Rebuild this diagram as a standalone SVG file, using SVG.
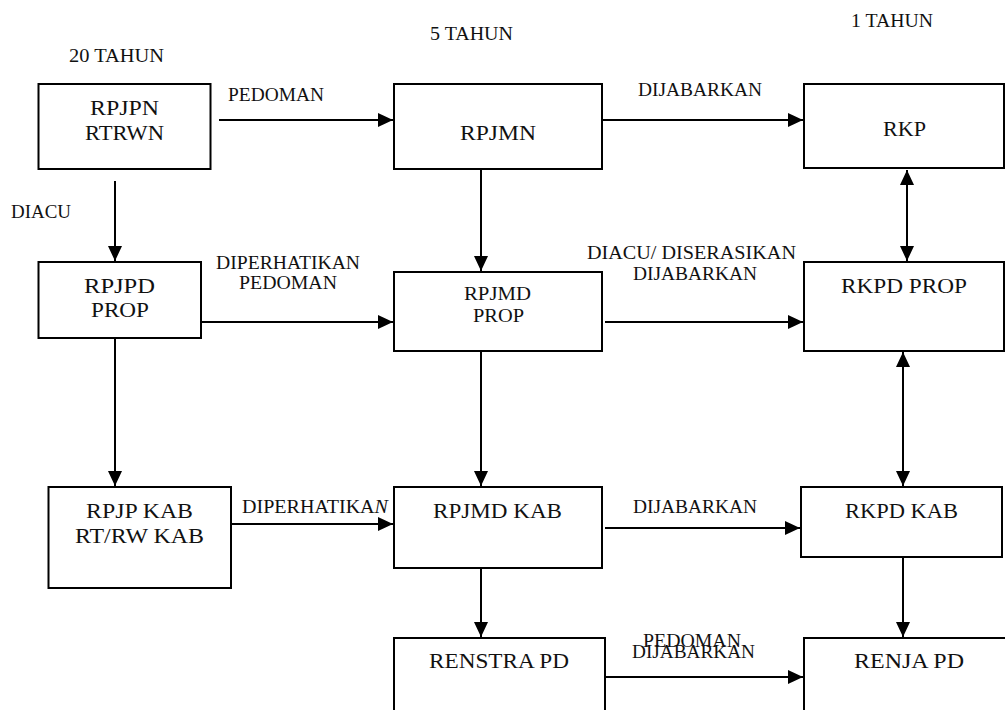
<svg xmlns="http://www.w3.org/2000/svg" width="1005" height="710" viewBox="0 0 1005 710">
<defs>
<marker id="ah" markerUnits="userSpaceOnUse" markerWidth="16" markerHeight="14" viewBox="0 0 16 14" refX="15" refY="7" orient="auto-start-reverse">
<path d="M0,0 L15,7 L0,14 Z" fill="#000"/>
</marker>
</defs>
<style>
.box{fill:#fff;stroke:#000;stroke-width:2}
.t{font-family:"Liberation Serif","Times New Roman",serif;font-size:22px;fill:#111;text-anchor:middle}
.ts{font-family:"Liberation Serif","Times New Roman",serif;font-size:19px;fill:#111;text-anchor:middle}
.lb{font-family:"Liberation Serif","Times New Roman",serif;font-size:19px;fill:#111;text-anchor:middle}
.c{stroke:#000;stroke-width:2;fill:none}
</style>
<rect width="1005" height="710" fill="#fff"/>
<g id="headers">
<text class="lb" x="116.5" y="62" textLength="95" lengthAdjust="spacingAndGlyphs">20 TAHUN</text>
<text class="lb" x="471.5" y="40" textLength="83" lengthAdjust="spacingAndGlyphs">5 TAHUN</text>
<text class="lb" x="892" y="27" textLength="82" lengthAdjust="spacingAndGlyphs">1 TAHUN</text>
</g>
<g id="connectors">
<line class="c" x1="219" y1="120" x2="393" y2="120" marker-end="url(#ah)"/>
<line class="c" x1="602" y1="120" x2="803" y2="120" marker-end="url(#ah)"/>
<line class="c" x1="115" y1="181" x2="115" y2="261" marker-end="url(#ah)"/>
<line class="c" x1="481" y1="169" x2="481" y2="271" marker-end="url(#ah)"/>
<line class="c" x1="907" y1="170" x2="907" y2="261" marker-start="url(#ah)" marker-end="url(#ah)"/>
<line class="c" x1="201" y1="322" x2="393" y2="322" marker-end="url(#ah)"/>
<line class="c" x1="605" y1="322" x2="803" y2="322" marker-end="url(#ah)"/>
<line class="c" x1="115" y1="338" x2="115" y2="486" marker-end="url(#ah)"/>
<line class="c" x1="481" y1="351" x2="481" y2="486" marker-end="url(#ah)"/>
<line class="c" x1="903" y1="352" x2="903" y2="486" marker-start="url(#ah)" marker-end="url(#ah)"/>
<line class="c" x1="231" y1="524" x2="393" y2="524" marker-end="url(#ah)"/>
<line class="c" x1="605" y1="528" x2="800" y2="528" marker-end="url(#ah)"/>
<line class="c" x1="481" y1="568" x2="481" y2="637" marker-end="url(#ah)"/>
<line class="c" x1="903" y1="557" x2="903" y2="637" marker-end="url(#ah)"/>
<line class="c" x1="605" y1="677" x2="803" y2="677" marker-end="url(#ah)"/>
<text class="lb" x="276" y="101" textLength="96" lengthAdjust="spacingAndGlyphs">PEDOMAN</text>
<text class="lb" x="700" y="96" textLength="124" lengthAdjust="spacingAndGlyphs">DIJABARKAN</text>
<text class="lb" x="41" y="218" textLength="60" lengthAdjust="spacingAndGlyphs">DIACU</text>
<text class="lb" x="288" y="269" textLength="144" lengthAdjust="spacingAndGlyphs">DIPERHATIKAN</text>
<text class="lb" x="288" y="289" textLength="98" lengthAdjust="spacingAndGlyphs">PEDOMAN</text>
<text class="lb" x="691.5" y="259" textLength="209" lengthAdjust="spacingAndGlyphs">DIACU/ DISERASIKAN</text>
<text class="lb" x="695" y="280" textLength="124" lengthAdjust="spacingAndGlyphs">DIJABARKAN</text>
<text class="lb" x="315" y="513" textLength="146" lengthAdjust="spacingAndGlyphs">DIPERHATIKA<tspan font-style="italic">N</tspan></text>
<text class="lb" x="695" y="513" textLength="124" lengthAdjust="spacingAndGlyphs">DIJABARKAN</text>
<text class="lb" x="692" y="647" textLength="98" lengthAdjust="spacingAndGlyphs">PEDOMAN</text>
<text class="lb" x="693.5" y="658" textLength="123" lengthAdjust="spacingAndGlyphs">DIJABARKAN</text>
</g>
<g id="n-rpjpn"><rect class="box" x="38.5" y="84" width="172" height="85"/><text class="t" x="124.5" y="115" textLength="69" lengthAdjust="spacingAndGlyphs">RPJPN</text><text class="t" x="124.5" y="140" textLength="79" lengthAdjust="spacingAndGlyphs">RTRWN</text></g>
<g id="n-rpjmn"><rect class="box" x="394" y="84" width="208" height="85"/><text class="t" x="498" y="140" textLength="76" lengthAdjust="spacingAndGlyphs">RPJMN</text></g>
<g id="n-rkp"><rect class="box" x="804" y="84" width="200" height="84"/><text class="t" x="904.5" y="136" textLength="43" lengthAdjust="spacingAndGlyphs">RKP</text></g>
<g id="n-rpjpd"><rect class="box" x="38.5" y="262" width="162.5" height="76"/><text class="t" x="119.5" y="293" textLength="71" lengthAdjust="spacingAndGlyphs">RPJPD</text><text class="t" x="120" y="317" textLength="58" lengthAdjust="spacingAndGlyphs">PROP</text></g>
<g id="n-rpjmd-prop"><rect class="box" x="394" y="272" width="208" height="79"/><text class="ts" x="497.5" y="300" textLength="67" lengthAdjust="spacingAndGlyphs">RPJMD</text><text class="ts" x="498.5" y="322" textLength="51" lengthAdjust="spacingAndGlyphs">PROP</text></g>
<g id="n-rkpd-prop"><rect class="box" x="804" y="262" width="200" height="89"/><text class="t" x="904" y="293" textLength="126" lengthAdjust="spacingAndGlyphs">RKPD PROP</text></g>
<g id="n-rpjp-kab"><rect class="box" x="48.5" y="487" width="182.5" height="101"/><text class="t" x="139.5" y="518" textLength="107" lengthAdjust="spacingAndGlyphs">RPJP KAB</text><text class="t" x="139.5" y="543" textLength="129" lengthAdjust="spacingAndGlyphs">RT/RW KAB</text></g>
<g id="n-rpjmd-kab"><rect class="box" x="394" y="487" width="208" height="81"/><text class="t" x="497.5" y="518" textLength="129" lengthAdjust="spacingAndGlyphs">RPJMD KAB</text></g>
<g id="n-rkpd-kab"><rect class="box" x="801" y="487" width="201" height="70"/><text class="t" x="901.5" y="518" textLength="113" lengthAdjust="spacingAndGlyphs">RKPD KAB</text></g>
<g id="n-renstra"><rect class="box" x="394" y="638" width="211" height="80"/><text class="t" x="499" y="668" textLength="140" lengthAdjust="spacingAndGlyphs">RENSTRA PD</text></g>
<g id="n-renja"><rect class="box" x="804" y="638" width="210" height="80"/><text class="t" x="909" y="668" textLength="110" lengthAdjust="spacingAndGlyphs">RENJA PD</text></g>
</svg>
